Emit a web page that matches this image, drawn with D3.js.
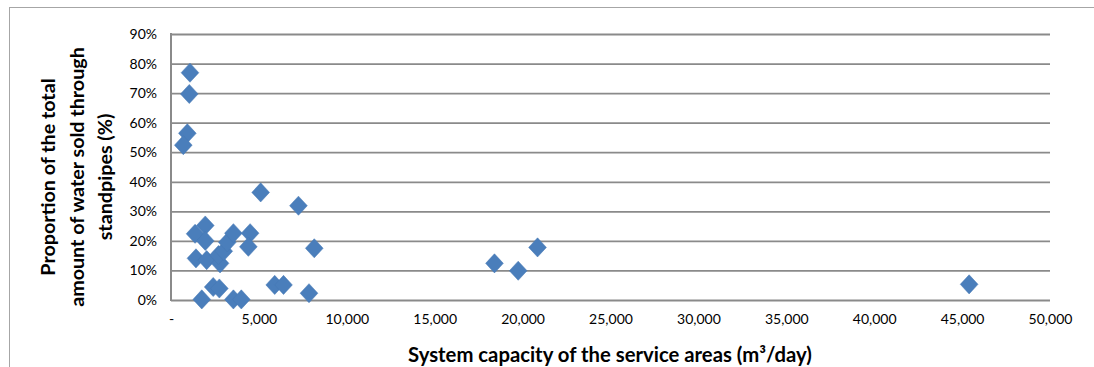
<!DOCTYPE html>
<html><head><meta charset="utf-8">
<script src="https://cdn.jsdelivr.net/npm/d3@7"></script>
<style>
html,body{margin:0;padding:0;background:#fff;}
svg text{font-family:Lato,"Open Sans",sans-serif;fill:#000;}
</style></head>
<body>
<svg id="chart" width="1094" height="367"></svg>
<script>
// capacity (m3/day)
const capacity = [1080, 1040, 930, 700, 5100, 7250, 1370, 1950, 1950, 1420, 2030, 2790, 2700, 3000, 3200, 3550, 4500, 4400, 8150, 2400, 2750, 1750, 3550, 4000, 5900, 6400, 7850, 18400, 19750, 20850, 45400];
// proportion sold through standpipes (%)
const proportion = [76.9, 69.7, 56.4, 52.4, 36.4, 31.9, 22.4, 25.2, 20.0, 14.1, 13.5, 12.4, 15.2, 16.5, 19.5, 22.6, 22.6, 18.0, 17.5, 4.4, 3.9, 0.2, 0.2, 0.2, 5.1, 5.1, 2.3, 12.4, 9.9, 17.8, 5.3];
const xTicks = [0, 5000, 10000, 15000, 20000, 25000, 30000, 35000, 40000, 45000, 50000];
const yTicks = [0, 10, 20, 30, 40, 50, 60, 70, 80, 90];
const xTitle = "System capacity of the service areas (m\u00B3/day)";
const yTitleLines = ["Proportion of the total", "amount of water sold through", "standpipes (%)"];

(function () {
const svg = d3.select("#chart");
const pL = 171, pR = 1050, pT = 34, pB = 300;
const x = d3.scaleLinear().domain([0, 50000]).range([pL, pR]);
const y = d3.scaleLinear().domain([0, 90]).range([pB, pT]);

// outer chart frame
svg.append("rect").attr("x", 9.5).attr("y", 7.5).attr("width", 1200).attr("height", 500)
  .attr("fill", "none").attr("stroke", "#a6a6a6").attr("stroke-width", 1);

// gridlines
const yAxis = d3.axisLeft(y).tickValues(yTicks).tickSize(-(pR - pL)).tickFormat(d => d + "%").tickPadding(14);
const gy = svg.append("g").attr("transform", `translate(${pL},0)`).call(yAxis);
gy.select(".domain").remove();
gy.selectAll(".tick line").attr("stroke", "#8a8a8a").attr("stroke-width", 1.8);
gy.selectAll(".tick text").attr("font-size", 14).attr("font-family", "Lato").attr("fill", "#000");

// left axis line
svg.append("line").attr("x1", pL).attr("x2", pL).attr("y1", pT - 1).attr("y2", pB + 1)
  .attr("stroke", "#8a8a8a").attr("stroke-width", 2);

// x axis labels
const xAxis = d3.axisBottom(x).tickValues(xTicks).tickSize(0).tickPadding(14)
  .tickFormat(d => d === 0 ? "-" : d3.format(",")(d));
const gx = svg.append("g").attr("transform", `translate(0,${pB})`).call(xAxis);
gx.select(".domain").remove();
gx.selectAll(".tick text").attr("font-size", 14).attr("font-family", "Lato").attr("fill", "#000");

// points (diamonds)
const sym = d3.symbol().type(d3.symbolDiamond2).size(200);
svg.append("g").selectAll("path").data(capacity.map((c, i) => [c, proportion[i]])).join("path")
  .attr("d", sym)
  .attr("transform", d => `translate(${x(d[0])},${y(d[1])}) scale(1,1.08)`)
  .attr("fill", "#4a7ebb").attr("stroke", "#4678b4").attr("stroke-width", 0.5);

// fit helper: returns font size giving target width
function fitSize(sel, target) {
  const w = sel.node().getComputedTextLength();
  const fs = parseFloat(sel.attr("font-size"));
  return fs * target / w;
}

// x title
const xt = svg.append("text").attr("x", 610).attr("y", 362).attr("text-anchor", "middle")
  .attr("font-size", 17).attr("font-weight", "bold").text(xTitle);
xt.attr("font-size", fitSize(xt, 404));

// y title
const yt = svg.append("g").attr("transform", `translate(0,177) rotate(-90)`);
const baselines = [55, 84, 112];
const texts = yTitleLines.map((t, i) => yt.append("text").attr("x", 0).attr("y", baselines[i])
  .attr("text-anchor", "middle").attr("font-size", 18).attr("font-weight", "bold").text(t));
const fs = fitSize(texts[1], 260);
texts.forEach(s => s.attr("font-size", fs));
})();
</script>
</body></html>
